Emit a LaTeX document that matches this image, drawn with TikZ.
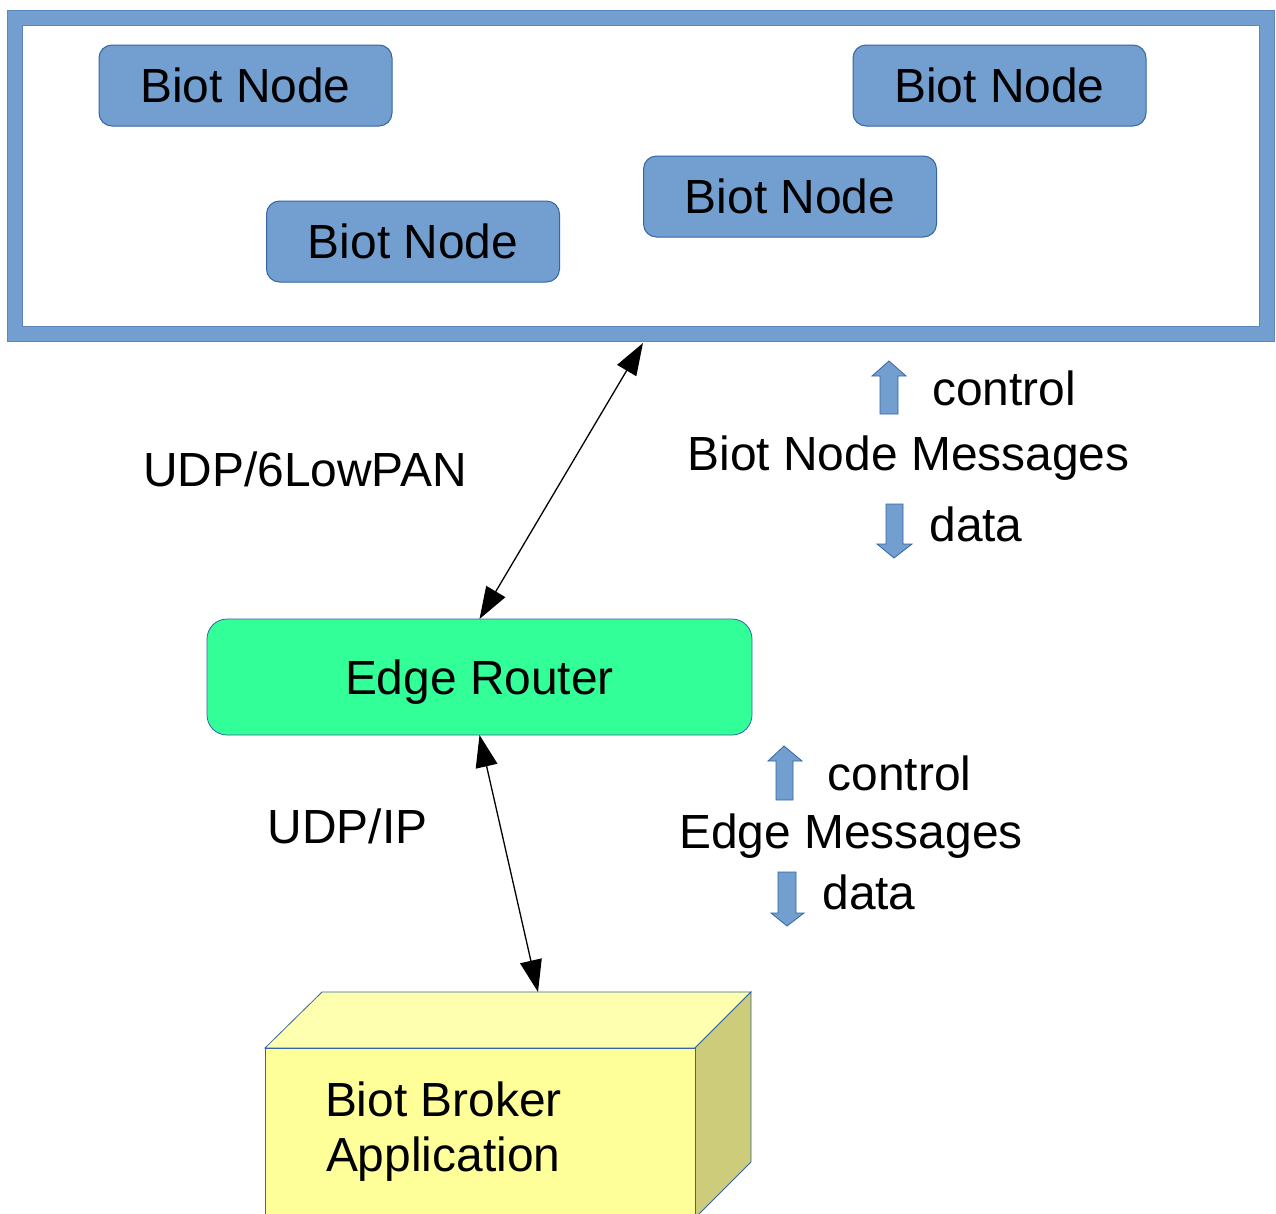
\documentclass[tikz,border=0pt]{standalone}
\usepackage{fontspec}
\setmainfont{Liberation Sans}
\usetikzlibrary{arrows.meta}
\definecolor{nodeblue}{HTML}{729FCF}
\definecolor{edgeblue}{HTML}{3465A4}
\definecolor{framedark}{HTML}{5B86C0}
\definecolor{routergreen}{HTML}{33FF99}
\definecolor{boxfront}{HTML}{FFFF99}
\definecolor{boxtopc}{HTML}{FFFFB0}
\definecolor{boxside}{HTML}{CCCC7A}
\begin{document}
\begin{tikzpicture}[x=1pt,y=-1pt,
  every node/.style={font=\fontsize{47.9}{57}\selectfont, inner sep=0pt, outer sep=0pt},
  biotnode/.style={draw=edgeblue, fill=nodeblue, line width=1pt, rounded corners=13pt,
    minimum width=293pt, minimum height=81pt},
  router/.style={draw=edgeblue, fill=routergreen, line width=0.8pt, rounded corners=20pt,
    minimum width=545pt, minimum height=116pt, text depth=0pt},
  framebox/.style={draw=framedark, double=nodeblue, double distance=14pt, line width=1pt,
    minimum width=1252pt, minimum height=316pt},
  lbl/.style={anchor=base},
  lblleft/.style={anchor=base west},
  biarrow/.style={{Triangle[length=32pt,width=22pt]}-{Triangle[length=32pt,width=22pt]}, line width=1.3pt, black},
  blockarrow/.style={fill=nodeblue, draw=edgeblue, line width=0.8pt},
  boxface/.style={draw=edgeblue, line width=0.8pt}
]
\useasboundingbox[fill=white] (0,0) rectangle (1276,1213);

% network frame
\node[framebox] (net) at (641,176) {};
\node[biotnode] (bn1) at (245.5,85.5) {Biot Node};
\node[biotnode] (bn2) at (999.5,85.5) {Biot Node};
\node[biotnode] (bn3) at (790,196.5) {Biot Node};
\node[biotnode] (bn4) at (413,241.5) {Biot Node};

% edge router
\node[router] (er) at (479.5,677) {Edge Router};

% 3D box (broker)
\path[boxface, fill=boxtopc] (265,1048) -- (322,992) -- (751,992) -- (695,1048) -- cycle;
\path[boxface, fill=boxside] (695,1048) -- (751,992) -- (751,1162) -- (695,1218) -- cycle;
\path[boxface, fill=boxfront] (265,1048) rectangle (695,1220);
\node[lblleft] (broker1) at (325,1116) {Biot Broker};
\node[lblleft] (broker2) at (326,1171) {Application};

% connector end points
\coordinate (nettip) at (643,343);
\coordinate (boxtip) at (538,992);
\draw[biarrow] (er.north) -- (nettip);
\draw[biarrow] (er.south) -- (boxtip);

% labels
\node[lbl] (udp6) at (305,486) {UDP/6LowPAN};
\node[lbl] (udpip) at (347.5,843) {UDP/IP};
\node[lbl] (ctl1) at (1004,405) {control};
\node[lbl] (bnm) at (908.5,470) {Biot Node Messages};
\node[lbl] (data1) at (976,541) {data};
\node[lbl] (ctl2) at (899.5,790) {control};
\node[lbl] (em) at (851,848) {Edge Messages};
\node[lbl] (data2) at (869,909) {data};

% block arrows
\path[blockarrow] (889,361) -- (906,376) -- (898,376) -- (898,414) -- (880,414) -- (880,376) -- (872,376) -- cycle;
\path[blockarrow] (886,504) -- (903,504) -- (903,544) -- (912,544) -- (894,558) -- (877,544) -- (886,544) -- cycle;
\path[blockarrow] (784,746) -- (802,761) -- (793,761) -- (793,800) -- (776,800) -- (776,761) -- (768,761) -- cycle;
\path[blockarrow] (778,872) -- (796,872) -- (796,913) -- (804,913) -- (787,926) -- (771,913) -- (778,913) -- cycle;
\end{tikzpicture}
\end{document}
